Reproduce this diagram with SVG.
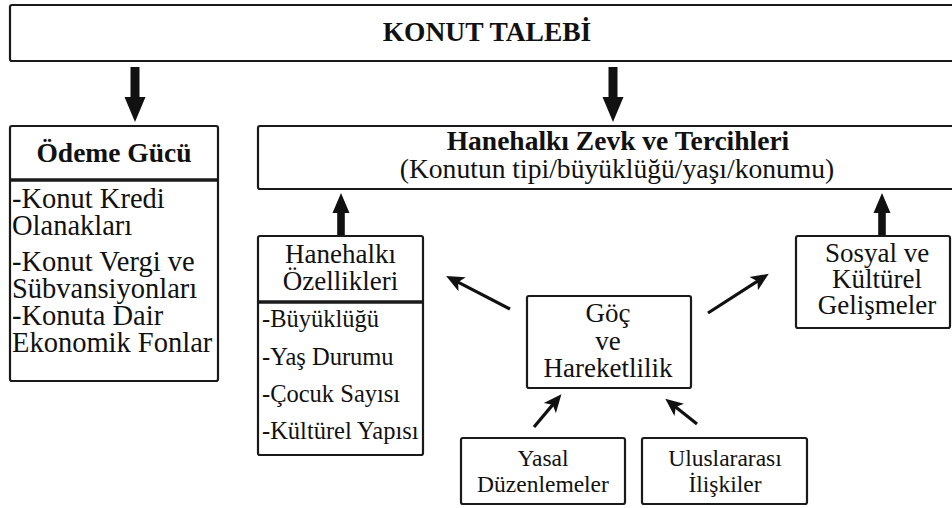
<svg xmlns="http://www.w3.org/2000/svg" width="952" height="508" viewBox="0 0 952 508">
<defs>
<style>
.box{fill:#fff;stroke:#1a1a1a;stroke-width:2.2}
.div{stroke:#1a1a1a;stroke-width:3.5}
text{font-family:"Liberation Serif","Times New Roman",Times,"Tinos","Noto Serif","DejaVu Serif",serif;fill:#111}
.h{font-weight:bold;font-size:27.5px;text-anchor:middle}
.t{font-size:27px;text-anchor:middle}
.st{font-size:27.6px;text-anchor:middle}
.c{font-size:27px;text-anchor:middle}
.l{font-size:28.5px}
.s{font-size:24.5px}
.m{font-size:23.5px;text-anchor:middle}
.ln{stroke:#111;stroke-width:3.2;fill:none;marker-end:url(#ah)}
.blk{fill:#111}
</style>
<marker id="ah" markerUnits="userSpaceOnUse" markerWidth="18" markerHeight="18" viewBox="0 0 16 15" refX="7" refY="7.5" orient="auto">
<path d="M0,0.5 L16,7.5 L0,14.5 L4,7.5 Z" fill="#111"/>
</marker>
</defs>

<g id="konut-talebi">
<rect class="box" x="10" y="5" width="960" height="56" rx="2"/>
<text class="h" x="487" y="41">KONUT TALEBİ</text>
</g>

<g id="odeme-gucu">
<rect class="box" x="10" y="126" width="208" height="255" rx="2"/>
<line class="div" x1="10" y1="180" x2="218" y2="180"/>
<text class="h" x="114" y="162">Ödeme Gücü</text>
<text class="l" x="12" y="208">-Konut Kredi</text>
<text class="l" x="12" y="235">Olanakları</text>
<text class="l" x="12" y="271">-Konut Vergi ve</text>
<text class="l" x="12" y="298">Sübvansiyonları</text>
<text class="l" x="12" y="325">-Konuta Dair</text>
<text class="l" x="12" y="352">Ekonomik Fonlar</text>
</g>

<g id="zevk-tercihler">
<rect class="box" x="258" y="126" width="710" height="63" rx="2"/>
<text class="h" x="618" y="150">Hanehalkı Zevk ve Tercihleri</text>
<text class="st" x="617" y="178">(Konutun tipi/büyüklüğü/yaşı/konumu)</text>
</g>

<g id="hanehalki-ozellikleri">
<rect class="box" x="258" y="236" width="165" height="219" rx="2"/>
<line class="div" x1="258" y1="302" x2="423" y2="302"/>
<text class="t" x="340.5" y="263">Hanehalkı</text>
<text class="t" x="340.5" y="290">Özellikleri</text>
<text class="s" x="262" y="327">-Büyüklüğü</text>
<text class="s" x="262" y="365">-Yaş Durumu</text>
<text class="s" x="262" y="402">-Çocuk Sayısı</text>
<text class="s" x="262" y="439">-Kültürel Yapısı</text>
</g>

<g id="sosyal-kulturel">
<rect class="box" x="796" y="236" width="154" height="92" rx="2"/>
<text class="c" x="877" y="262">Sosyal ve</text>
<text class="c" x="877" y="288">Kültürel</text>
<text class="c" x="877" y="314">Gelişmeler</text>
</g>

<g id="goc-hareketlilik">
<rect class="box" x="527" y="296" width="164" height="92" rx="2"/>
<text class="t" x="608" y="322">Göç</text>
<text class="t" x="608" y="350">ve</text>
<text class="t" x="608" y="377">Hareketlilik</text>
</g>

<g id="yasal-duzenlemeler">
<rect class="box" x="461" y="438" width="164" height="66" rx="2"/>
<text class="m" x="543" y="466">Yasal</text>
<text class="m" x="543" y="492">Düzenlemeler</text>
</g>

<g id="uluslararasi-iliskiler">
<rect class="box" x="642" y="438" width="165" height="66" rx="2"/>
<text class="m" x="725" y="466">Uluslararası</text>
<text class="m" x="725" y="492">İlişkiler</text>
</g>

<g id="connectors">
<polygon class="blk" points="130.5,67 139.5,67 139.5,97 145.5,97 135,122 124.5,97 130.5,97"/>
<polygon class="blk" points="608.5,67 617.5,67 617.5,97 623.5,97 613,122 602.5,97 608.5,97"/>
<polygon class="blk" points="337.2,235 344.8,235 344.8,213 349.5,213 341,193 332.5,213 337.2,213"/>
<polygon class="blk" points="878.2,235 885.8,235 885.8,213 890.5,213 882,193 873.5,213 878.2,213"/>
<line class="ln" x1="510" y1="309" x2="455.1" y2="280.7"/>
<line class="ln" x1="708" y1="313" x2="760.3" y2="279.3"/>
<line class="ln" x1="534" y1="427" x2="554.9" y2="402.1"/>
<line class="ln" x1="697" y1="424" x2="673.2" y2="405"/>
</g>
</svg>
